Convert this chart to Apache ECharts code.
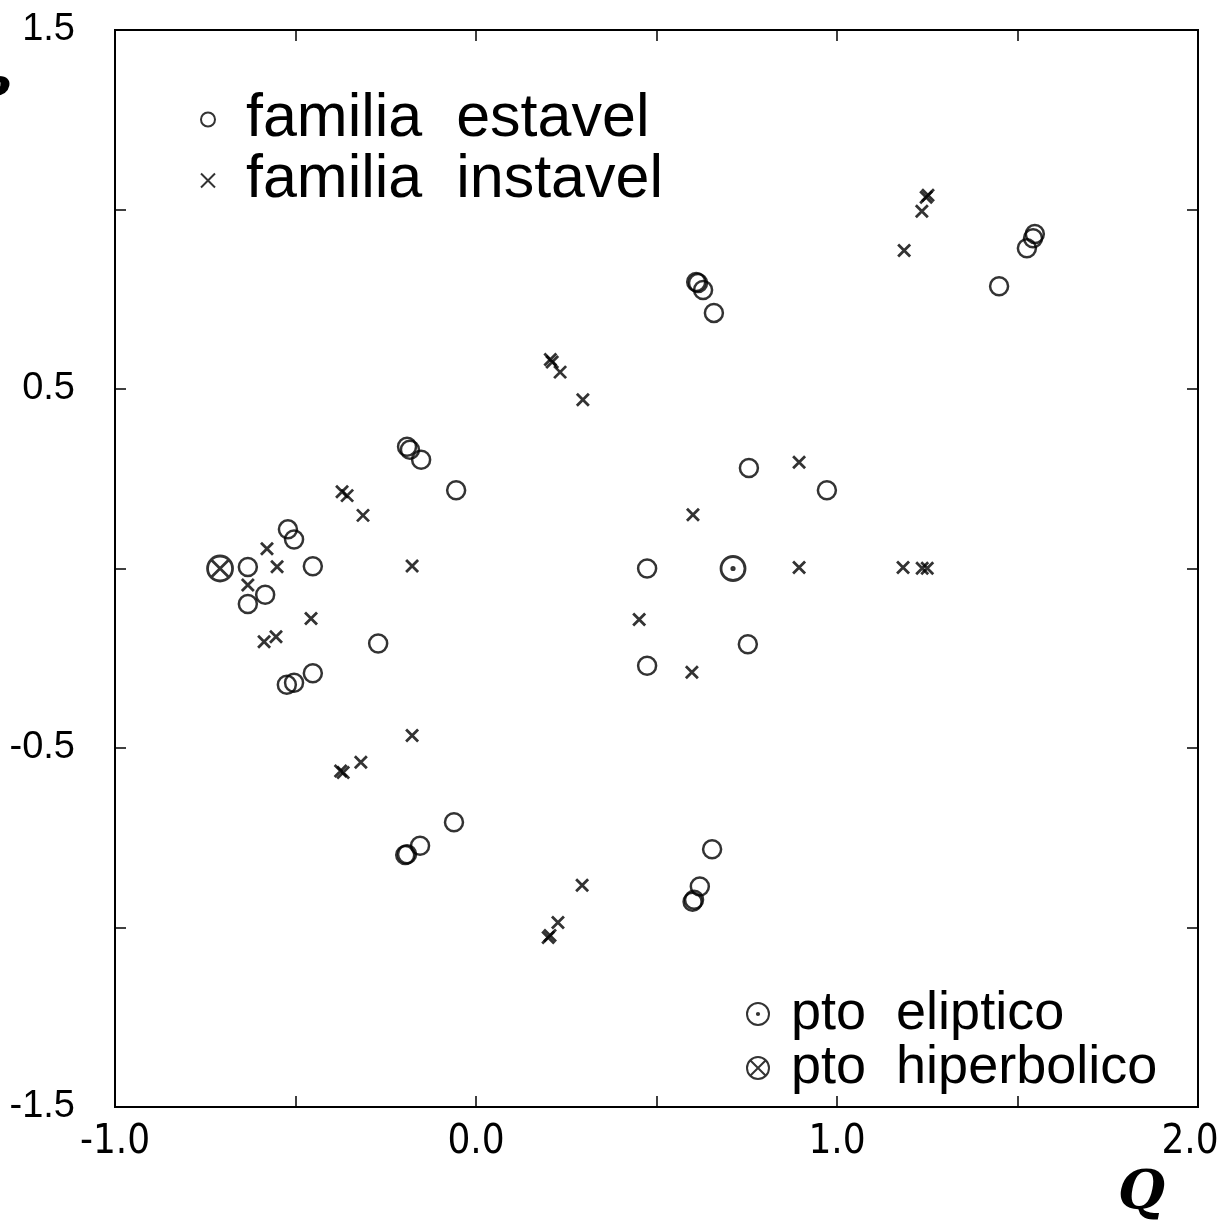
<!DOCTYPE html>
<html>
<head>
<meta charset="utf-8">
<script src="https://cdn.jsdelivr.net/npm/echarts@6/dist/echarts.min.js"></script>
<style>
  html, body { margin: 0; padding: 0; background: #fff; overflow: hidden; }
  #chart { width: 1222px; height: 1223px; display: block; }
</style>
</head>
<body>
<div id="chart"></div>
<script>
// ---- data (Q, P) ----
const estavel = [
  [0.610, 0.798], [0.615, 0.795], [0.629, 0.776], [0.659, 0.712],
  [1.548, 0.932], [1.543, 0.920], [1.526, 0.892], [1.449, 0.786],
  [-0.191, 0.339], [-0.183, 0.331], [-0.152, 0.303], [-0.055, 0.218],
  [0.756, 0.280], [0.972, 0.218],
  [-0.521, 0.109], [-0.504, 0.081],
  [-0.632, 0.004], [-0.452, 0.006],
  [-0.584, -0.073], [-0.632, -0.099],
  [0.474, 0.000],
  [-0.271, -0.209], [0.753, -0.211], [0.474, -0.271],
  [-0.452, -0.292], [-0.504, -0.318], [-0.524, -0.324],
  [-0.061, -0.707],
  [-0.155, -0.772], [-0.191, -0.796], [-0.196, -0.798],
  [0.654, -0.782], [0.620, -0.886], [0.604, -0.923], [0.600, -0.928]
];
const instavel = [
  [1.247, 1.034], [1.252, 1.040], [1.235, 0.995], [1.186, 0.886],
  [0.211, 0.575], [0.206, 0.582], [0.233, 0.547], [0.296, 0.470],
  [0.895, 0.296], [0.601, 0.150],
  [-0.371, 0.214], [-0.357, 0.203], [-0.313, 0.148],
  [-0.579, 0.055], [-0.551, 0.005], [-0.632, -0.046], [-0.177, 0.007],
  [-0.457, -0.139], [-0.554, -0.190], [-0.587, -0.204],
  [0.452, -0.142], [0.598, -0.289],
  [0.895, 0.003], [1.183, 0.003], [1.236, 0.001], [1.250, 0.001],
  [-0.177, -0.465], [-0.319, -0.540], [-0.368, -0.568], [-0.375, -0.564],
  [0.294, -0.882], [0.227, -0.986], [0.205, -1.022], [0.200, -1.028]
];
const eliptico = [[0.712, 0.0]];
const hiperbolico = [[-0.709, 0.0]];

const xTickLabels = ['-1.0', '0.0', '1.0', '2.0'];
const yTickLabels = ['-1.5', '-0.5', '0.5', '1.5'];
const seriesNames = ['familia  estavel', 'familia  instavel', 'pto  eliptico', 'pto  hiperbolico'];

// ---- symbols ----
const crossPath = 'path://M0,0L10,10M10,0L0,10';
const dotCirclePath = 'path://M0,10A10,10,0,1,1,20,10A10,10,0,1,1,0,10ZM9,10A1,1,0,1,1,11,10A1,1,0,1,1,9,10Z';
const xCirclePath = 'path://M0,10A10,10,0,1,1,20,10A10,10,0,1,1,0,10ZM2.93,2.93L17.07,17.07M17.07,2.93L2.93,17.07';

const hollow = (w) => ({ color: 'rgba(0,0,0,0)', borderColor: '#000', borderWidth: w });

const chart = echarts.init(document.getElementById('chart'), null, { renderer: 'canvas', width: 1222, height: 1223 });

const axisCommon = {
  type: 'value',
  interval: 0.5,
  splitLine: { show: false },
  axisLine: { show: true, onZero: false, lineStyle: { color: '#000', width: 2 } },
  axisTick: { show: true, inside: true, length: 11, lineStyle: { color: '#000', width: 1.5 } }
};

const xFont = 'Liberation Sans Narrow, DejaVu Sans Condensed, Liberation Sans';

chart.setOption({
  animation: false,
  backgroundColor: '#fff',
  grid: {
    left: 115, right: 24, top: 30, bottom: 116,
    outerBoundsMode: 'none', containLabel: false,
    show: true, borderColor: '#000', borderWidth: 2, backgroundColor: 'transparent'
  },
  xAxis: [
    Object.assign({}, axisCommon, {
      position: 'bottom', min: -1, max: 2,
      axisLabel: {
        show: true, margin: 16, color: '#000',
        fontFamily: xFont, fontSize: 40,
        formatter: (v) => {
          const s = v.toFixed(1);
          if (!xTickLabels.includes(s)) return '';
          return s === xTickLabels[xTickLabels.length - 1] ? '{last|' + s + '}' : s;
        },
        rich: {
          last: { fontFamily: xFont, fontSize: 40, color: '#000', padding: [0, 16, 0, 0] }
        }
      }
    }),
    Object.assign({}, axisCommon, {
      position: 'top', min: -1, max: 2,
      axisLabel: { show: false }
    })
  ],
  yAxis: [
    Object.assign({}, axisCommon, {
      position: 'left', min: -1.5, max: 1.5,
      axisLabel: {
        show: true, margin: 40, color: '#000',
        fontFamily: 'Liberation Sans, Arial, sans-serif', fontSize: 38,
        formatter: (v) => yTickLabels.includes(v.toFixed(1)) ? v.toFixed(1) : ''
      }
    }),
    Object.assign({}, axisCommon, {
      position: 'right', min: -1.5, max: 1.5,
      axisLabel: { show: false }
    })
  ],
  legend: [
    {
      orient: 'vertical', left: 195, top: 84,
      data: [seriesNames[0], seriesNames[1]],
      itemWidth: 14, itemHeight: 14, itemGap: 0,
      selectedMode: false,
      textStyle: {
        fontFamily: 'Liberation Sans, Arial, sans-serif', fontSize: 61,
        lineHeight: 50, color: '#000', padding: [0, 0, 0, 26]
      }
    },
    {
      orient: 'vertical', left: 741, top: 982,
      data: [seriesNames[2], seriesNames[3]],
      itemWidth: 22, itemHeight: 22, itemGap: 0,
      selectedMode: false,
      textStyle: {
        fontFamily: 'Liberation Sans, Arial, sans-serif', fontSize: 54,
        lineHeight: 47, color: '#000', padding: [0, 0, 0, 17]
      }
    }
  ],
  graphic: [
    {
      type: 'text', left: 1118, top: 1168,
      style: { text: 'Q', font: 'italic bold 54px "DejaVu Serif", "Liberation Serif", serif', fill: '#000' }
    },
    {
      type: 'text', left: -24, top: 76,
      style: { text: 'P', font: 'italic bold 44px "DejaVu Serif", "Liberation Serif", serif', fill: '#000' }
    }
  ],
  series: [
    {
      name: seriesNames[0], type: 'scatter', data: estavel,
      xAxisIndex: 0, yAxisIndex: 0,
      symbol: 'circle', symbolSize: 18,
      itemStyle: hollow(2.5)
    },
    {
      name: seriesNames[1], type: 'scatter', data: instavel,
      xAxisIndex: 0, yAxisIndex: 0,
      symbol: crossPath, symbolSize: 12,
      itemStyle: hollow(2.8)
    },
    {
      name: seriesNames[2], type: 'scatter', data: eliptico,
      xAxisIndex: 0, yAxisIndex: 0,
      symbol: dotCirclePath, symbolSize: 24,
      itemStyle: hollow(2.8)
    },
    {
      name: seriesNames[3], type: 'scatter', data: hiperbolico,
      xAxisIndex: 0, yAxisIndex: 0,
      symbol: xCirclePath, symbolSize: 25,
      itemStyle: hollow(2.8)
    }
  ]
});
</script>
</body>
</html>
